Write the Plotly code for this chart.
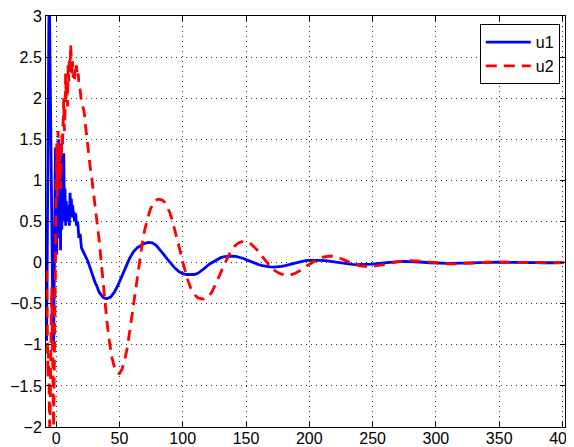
import plotly.graph_objects as go

# ---- data: u1 (blue solid) ----
t1 = [-7.5, -6.5, -5.5, -4.5, -3.5, -2.5, -2, -1.5, -1, -0.5, 0, 0.5, 1, 1.5, 2, 2.5, 3, 3.5, 4, 4.5,
      5, 5.5, 6, 6.5, 7, 7.5, 8, 8.5, 9, 9.5, 10, 10.5, 11, 11.5, 12, 12.5, 13, 13.5, 14, 14.5,
      15, 15.5, 16, 17, 18, 19, 20, 21, 22, 23, 24, 25, 26, 27, 28, 29, 30, 31, 32, 33, 34, 35,
      36, 37, 38, 40, 43, 46, 49, 52, 55, 58, 61, 64, 67, 70, 73, 76, 79, 82, 85, 88, 91, 94, 97,
      100, 103, 106, 109, 112, 115, 118, 121, 124, 127, 130, 133, 136, 139, 142, 145, 148, 151,
      154, 157, 160, 163, 166, 169, 172, 175, 178, 181, 184, 187, 190, 193, 196, 199, 202, 206,
      210, 214, 218, 222, 226, 230, 234, 238, 242, 246, 250, 255, 260, 265, 270, 275, 280, 285,
      290, 295, 300, 310, 320, 330, 340, 350, 360, 370, 380, 390, 401]
u1 = [-0.95, 1.0, 3.4, 2.0, 0.2, -0.8, -1.03, -0.4, 0.6, 1.4, 0.9, 0.1, 1.2, 0.5, 1.5, 0.3, 1.1, 0.15, 1.45, 0.4,
      1.0, 0.5, 1.33, 0.6, 0.9, 0.45, 0.75, 0.5, 0.7, 0.55, 0.65, 0.45, 0.85, 0.6, 0.78, 0.55, 0.7, 0.6, 0.62, 0.5,
      0.55, 0.6, 0.45, 0.5, 0.3, 0.35, 0.18, 0.15, 0.12, 0.1, 0.05, 0.02, -0.03, -0.08, -0.12, -0.17, -0.2, -0.25, -0.28, -0.33, -0.36, -0.38,
      -0.41, -0.42, -0.43, -0.44, -0.42, -0.36, -0.27, -0.16, -0.05, 0.05, 0.13, 0.18, 0.21, 0.235, 0.245, 0.24, 0.21, 0.16, 0.1, 0.04, -0.02, -0.07, -0.11,
      -0.135, -0.145, -0.148, -0.145, -0.13, -0.1, -0.06, -0.02, 0.01, 0.04, 0.06, 0.072, 0.078, 0.078, 0.075, 0.065, 0.05, 0.03,
      0.01, -0.01, -0.025, -0.038, -0.047, -0.052, -0.054, -0.052, -0.047, -0.038, -0.026, -0.012, 0.0, 0.012, 0.02, 0.026, 0.029, 0.03,
      0.028, 0.022, 0.013, 0.003, -0.008, -0.016, -0.022, -0.025, -0.025, -0.023, -0.018, -0.01, 0.0, 0.008, 0.013, 0.015, 0.014, 0.01,
      0.004, -0.002, -0.007, -0.01, -0.006, 0.0, 0.004, 0.005, 0.003, 0.0, -0.002, -0.002, 0.0]

# ---- data: u2 (red dashed) ----
t2 = [-7.5, -7, -6.5, -6, -5.5, -5, -4.5, -4, -3.5, -3, -2.5, -2, -1.5, -1, -0.5, 0, 0.5, 1, 1.5, 2,
      2.5, 3, 3.5, 4, 4.5, 5, 5.5, 6, 6.5, 7, 7.5, 8, 8.5, 9, 9.5, 10, 10.5, 11, 11.5, 12,
      12.5, 13, 13.5, 14, 14.5, 15, 15.5, 16, 16.5, 17, 17.5, 18, 19, 20, 21, 22, 23, 24, 25, 26,
      27, 28, 29, 30, 32, 34, 36, 38, 40, 42, 44, 46, 48, 50, 52, 54, 56, 58, 60, 62, 64, 66, 68,
      70, 72, 74, 76, 78, 80, 82, 84, 86, 88, 90, 92, 94, 96, 98, 100, 102, 104, 106, 108, 110,
      112, 114, 116, 118, 120, 123, 126, 129, 132, 135, 138, 141, 144, 147, 150, 153, 156, 159,
      162, 165, 168, 171, 174, 177, 180, 183, 186, 189, 192, 195, 198, 201, 204, 207, 210, 213,
      216, 219, 222, 225, 228, 231, 234, 237, 240, 243, 246, 249, 252, 256, 260, 265, 270, 275,
      280, 285, 290, 295, 300, 305, 310, 315, 320, 330, 340, 350, 360, 370, 380, 390, 401]
u2 = [-0.1, -0.9, -1.4, -1.1, -1.7, -2.1, -1.5, -0.6, -0.3, -0.9, -1.6, -2.0, -1.4, -0.6, 0.3, 1.0, 1.45, 0.8, 1.6, 1.2,
      1.0, 1.3, 0.9, 1.2, 1.55, 1.4, 1.7, 2.0, 1.6, 1.8, 2.3, 2.0, 2.2, 1.9, 2.4, 2.2, 2.5, 2.35, 2.66, 2.5,
      2.3, 2.45, 2.25, 2.3, 2.2, 2.35, 2.3, 2.4, 2.35, 2.25, 2.3, 2.15, 2.1, 1.95, 1.9, 1.85, 1.7, 1.55, 1.4, 1.28,
      1.15, 1.05, 0.93, 0.82, 0.55, 0.27, -0.05, -0.4, -0.7, -0.95, -1.15, -1.27, -1.34, -1.35, -1.3, -1.2, -1.05, -0.85, -0.63, -0.4, -0.17, 0.04, 0.23,
      0.4, 0.53, 0.63, 0.7, 0.75, 0.77, 0.77, 0.76, 0.73, 0.67, 0.6, 0.5, 0.39, 0.27, 0.14, 0.01, -0.11, -0.21, -0.3, -0.36, -0.4,
      -0.43, -0.44, -0.445, -0.44, -0.42, -0.36, -0.27, -0.16, -0.05, 0.05, 0.14, 0.2, 0.24, 0.255, 0.255, 0.24, 0.2, 0.15,
      0.09, 0.03, -0.03, -0.08, -0.11, -0.135, -0.148, -0.15, -0.145, -0.13, -0.105, -0.075, -0.04, -0.01, 0.02, 0.045, 0.063, 0.075,
      0.08, 0.077, 0.067, 0.05, 0.03, 0.01, -0.01, -0.027, -0.04, -0.048, -0.05, -0.048, -0.042, -0.03, -0.02, -0.005, 0.01, 0.02,
      0.024, 0.022, 0.015, 0.006, -0.003, -0.01, -0.014, -0.015, -0.013, -0.005, 0.004, 0.008, 0.005, 0.0, -0.004, -0.003, 0.0]

x_ticks = [0, 50, 100, 150, 200, 250, 300, 350, 400]
y_ticks = [-2, -1.5, -1, -0.5, 0, 0.5, 1, 1.5, 2, 2.5, 3]

FONT = "Liberation Sans, Arial, Helvetica, sans-serif"

fig = go.Figure()
fig.add_trace(go.Scatter(x=t1, y=u1, mode="lines", name="u1",
                         line=dict(color="#0000ff", width=2.8)))
fig.add_trace(go.Scatter(x=t2, y=u2, mode="lines", name="u2",
                         line=dict(color="#ff0000", width=2.8, dash="11px,7px")))

axis_common = dict(
    showline=True, linecolor="black", linewidth=1, mirror="ticks",
    ticks="inside", ticklen=5, tickcolor="black", tickwidth=1,
    showgrid=True, gridcolor="#333333", gridwidth=1, griddash="1px,4px",
    zeroline=False, automargin=False, ticklabeloverflow="allow",
    tickfont=dict(family=FONT, size=16, color="black"),
)

fig.update_xaxes(range=[-8, 402], tickvals=x_ticks, ticklabelstandoff=-3, **axis_common)
fig.update_yaxes(range=[-2, 3], tickvals=y_ticks, **axis_common)

# the page body has an 8px default margin, so the figure is sized 8px smaller
fig.update_layout(
    width=566, height=439,
    margin=dict(l=38, r=9, t=8, b=20, autoexpand=False),
    paper_bgcolor="white", plot_bgcolor="white",
    font=dict(family=FONT, size=16, color="black"),
    showlegend=True,
    legend=dict(x=0.99, y=0.98, xanchor="right", yanchor="top",
                bordercolor="black", borderwidth=1, bgcolor="white",
                font=dict(family=FONT, size=16), itemwidth=45,
                tracegroupgap=0),
)

fig.write_html("out.html")
